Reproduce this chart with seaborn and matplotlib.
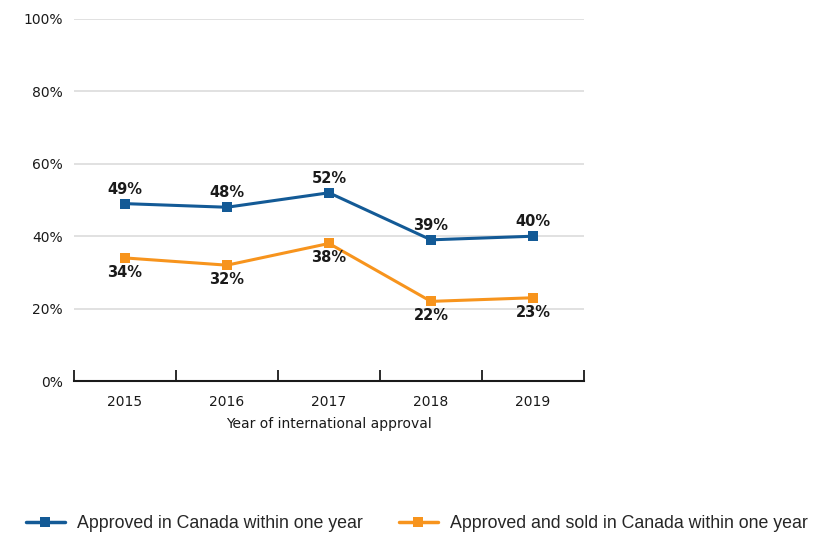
import pandas as pd
import seaborn as sns
import matplotlib.pyplot as plt
from matplotlib.lines import Line2D

# Data
years = ["2015", "2016", "2017", "2018", "2019"]
approved = [49, 48, 52, 39, 40]
approved_sold = [34, 32, 38, 22, 23]
series_names = ["Approved in Canada within one year",
                "Approved and sold in Canada within one year"]
y_ticks = [0, 20, 40, 60, 80, 100]

blue = "#135a96"
orange = "#f7941d"

df = pd.DataFrame({
    "pos": list(range(len(years))) * 2,
    "value": approved + approved_sold,
    "series": [series_names[0]] * len(years) + [series_names[1]] * len(years),
})

sns.set_style("white")
plt.rcParams["font.family"] = ["DejaVu Sans"]

fig = plt.figure(figsize=(8.24, 5.41), dpi=100)
ax = fig.add_axes([0.0898, 0.2957, 0.6189, 0.6692])

sns.lineplot(data=df, x="pos", y="value", hue="series",
             palette=[blue, orange], marker="s", markersize=7,
             markeredgewidth=0, linewidth=2.2, ax=ax, legend=False)

# value labels: blue above, orange below
for i, v in enumerate(approved):
    ax.annotate(f"{v}%", (i, v), xytext=(0, 5), textcoords="offset points",
                ha="center", va="bottom", fontsize=10.5, fontweight="bold", color="#1a1a1a")
for i, v in enumerate(approved_sold):
    ax.annotate(f"{v}%", (i, v), xytext=(0, -5), textcoords="offset points",
                ha="center", va="top", fontsize=10.5, fontweight="bold", color="#1a1a1a")

ax.set_xlim(-0.5, len(years) - 0.5)
ax.set_ylim(0, 100)
ax.set_yticks(y_ticks)
ax.set_yticklabels([f"{t}%" for t in y_ticks], fontsize=10, color="#1a1a1a")
ax.grid(axis="y", color="#dcdcdc", linewidth=1.2)
ax.grid(axis="x", visible=False)
ax.tick_params(axis="y", length=0, pad=8)

# category labels at centers, ticks at boundaries
ax.set_xticks(range(len(years)))
ax.set_xticklabels(years, fontsize=10, color="#1a1a1a")
ax.tick_params(axis="x", which="major", length=0, pad=10)
ax.set_xticks([i - 0.5 for i in range(len(years) + 1)], minor=True)
ax.tick_params(axis="x", which="minor", bottom=True, direction="in", length=8,
               width=1.3, color="#1a1a1a")
ax.set_xlabel("Year of international approval", fontsize=10, color="#1a1a1a", labelpad=6)
ax.set_ylabel("")

for side in ["top", "right", "left"]:
    ax.spines[side].set_visible(False)
ax.spines["bottom"].set_color("#1a1a1a")
ax.spines["bottom"].set_linewidth(1.5)
ax.spines["bottom"].set_zorder(5)

handles = [Line2D([0], [0], color=blue, lw=2.5, marker="s", markersize=7, markeredgewidth=0),
           Line2D([0], [0], color=orange, lw=2.5, marker="s", markersize=7, markeredgewidth=0)]
fig.legend(handles, series_names, loc="center left", bbox_to_anchor=(0.031, 0.032),
           ncol=2, frameon=False, handlelength=2.2, columnspacing=2.0,
           handletextpad=0.7, borderaxespad=0, borderpad=0,
           prop={"family": "Liberation Sans", "size": 12.8})

fig.savefig("out.png", dpi=100)
